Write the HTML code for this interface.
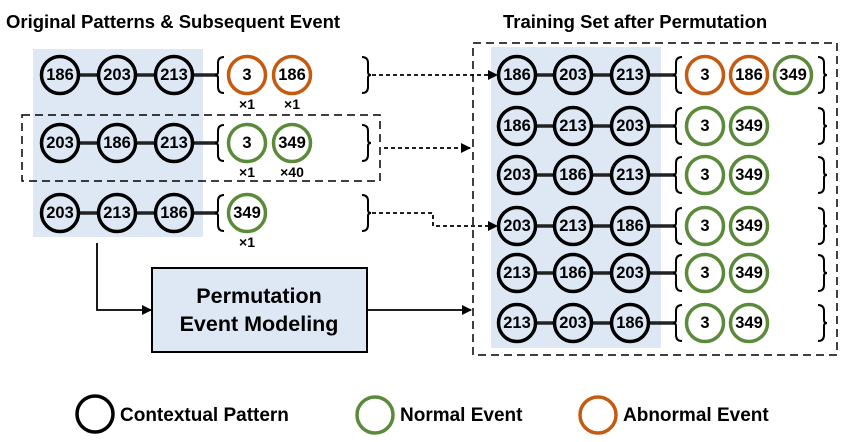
<!DOCTYPE html>
<html><head><meta charset="utf-8"><style>
html,body{margin:0;padding:0;background:#fff;}
svg{display:block;font-family:"Liberation Sans",sans-serif;font-weight:bold;}
.k{fill:none;stroke:#000;stroke-width:3.5}
.g{fill:none;stroke:#5b8a3b;stroke-width:3.5}
.o{fill:none;stroke:#c55a11;stroke-width:3.5}
.t{font-size:16.5px;text-anchor:middle;dominant-baseline:central;fill:#000}
.m{font-size:14px;text-anchor:middle;fill:#000}
.br{fill:none;stroke:#000;stroke-width:2}
.ln{stroke:#222;stroke-width:3.5}
</style></head><body>
<svg width="851" height="442" viewBox="0 0 851 442">
<defs><marker id="a" markerWidth="10" markerHeight="10" refX="9" refY="5" orient="auto" markerUnits="userSpaceOnUse"><path d="M0,0 L10,5 L0,10 z" fill="#000"/></marker></defs>
<text x="6" y="28" font-size="18.5">Original Patterns &amp; Subsequent Event</text>
<text x="503" y="28" font-size="18.5">Training Set after Permutation</text>
<rect x="33" y="49" width="170" height="188" fill="#dde8f4"/>
<rect x="491" y="47" width="170" height="301" fill="#dde8f4"/>
<rect x="22" y="115" width="358" height="66" fill="none" stroke="#000" stroke-width="1.5" stroke-dasharray="8,5"/>
<rect x="473" y="43" width="364" height="312" fill="none" stroke="#000" stroke-width="1.5" stroke-dasharray="8,5"/>

<g>
<line class="ln" x1="60" y1="75" x2="217" y2="75"/><line class="ln" x1="60" y1="143" x2="217" y2="143"/><line class="ln" x1="60" y1="213" x2="217" y2="213"/>
<g style="fill:#dde8f4" stroke="#000" stroke-width="3.5">
<circle cx="60" cy="75" r="18.5"/><circle cx="117" cy="75" r="18.5"/><circle cx="174" cy="75" r="18.5"/>
<circle cx="60" cy="143" r="18.5"/><circle cx="117" cy="143" r="18.5"/><circle cx="174" cy="143" r="18.5"/>
<circle cx="60" cy="213" r="18.5"/><circle cx="117" cy="213" r="18.5"/><circle cx="174" cy="213" r="18.5"/>
</g>
<text class="t" x="60" y="75">186</text><text class="t" x="117" y="75">203</text><text class="t" x="174" y="75">213</text>
<text class="t" x="60" y="143">203</text><text class="t" x="117" y="143">186</text><text class="t" x="174" y="143">213</text>
<text class="t" x="60" y="213">203</text><text class="t" x="117" y="213">213</text><text class="t" x="174" y="213">186</text>
<circle cx="247" cy="75" r="18.5" class="o"/><circle cx="292" cy="75" r="18.5" class="o"/>
<text class="t" x="247" y="75">3</text><text class="t" x="292" y="75">186</text>
<text class="m" x="247" y="109">×1</text><text class="m" x="292" y="109">×1</text>
<circle cx="247" cy="143" r="18.5" class="g"/><circle cx="292" cy="143" r="18.5" class="g"/>
<text class="t" x="247" y="143">3</text><text class="t" x="292" y="143">349</text>
<text class="m" x="247" y="177">×1</text><text class="m" x="292" y="177">×40</text>
<circle cx="247" cy="213" r="18.5" class="g"/><text class="t" x="247" y="213">349</text>
<text class="m" x="247" y="247">×1</text>
<path class="br" d="M224,57 Q218,57 218,63 L218,72 Q218,75 215,75 Q218,75 218,78 L218,87 Q218,93 224,93"/>
<path class="br" d="M224,125 Q218,125 218,131 L218,140 Q218,143 215,143 Q218,143 218,146 L218,155 Q218,161 224,161"/>
<path class="br" d="M224,195 Q218,195 218,201 L218,210 Q218,213 215,213 Q218,213 218,216 L218,225 Q218,231 224,231"/>
<path class="br" d="M362,57 Q368,57 368,63 L368,72 Q368,75 371,75 Q368,75 368,78 L368,87 Q368,93 362,93"/>
<path class="br" d="M362,125 Q368,125 368,131 L368,140 Q368,143 371,143 Q368,143 368,146 L368,155 Q368,161 362,161"/>
<path class="br" d="M362,195 Q368,195 368,201 L368,210 Q368,213 371,213 Q368,213 368,216 L368,225 Q368,231 362,231"/>
</g>

<g stroke="#000" stroke-width="1.8" fill="none">
<path d="M372,75 L497,75" stroke-dasharray="4,3" marker-end="url(#a)"/>
<path d="M384,148 L470,148" stroke-dasharray="4,3" marker-end="url(#a)"/>
<path d="M372,213 L433,213 L433,226 L497,226" stroke-dasharray="4,3" marker-end="url(#a)"/>
<path d="M97,243 L97,310 L151,310" marker-end="url(#a)"/>
<path d="M367,310 L471,310" marker-end="url(#a)"/>
</g>
<rect x="152" y="268" width="215" height="84" fill="#dde8f4" stroke="#000" stroke-width="2"/>
<text x="259" y="303" font-size="21.5" text-anchor="middle">Permutation</text>
<text x="259" y="331" font-size="21.5" text-anchor="middle">Event Modeling</text>

<g>
<line class="ln" x1="517" y1="75" x2="675" y2="75"/><line class="ln" x1="517" y1="126" x2="675" y2="126"/><line class="ln" x1="517" y1="175" x2="675" y2="175"/><line class="ln" x1="517" y1="226" x2="675" y2="226"/><line class="ln" x1="517" y1="273" x2="675" y2="273"/><line class="ln" x1="517" y1="323" x2="675" y2="323"/>
<g style="fill:#dde8f4" stroke="#000" stroke-width="3.5">
<circle cx="517" cy="75" r="18.5"/><circle cx="573" cy="75" r="18.5"/><circle cx="630" cy="75" r="18.5"/>
<circle cx="517" cy="126" r="18.5"/><circle cx="573" cy="126" r="18.5"/><circle cx="630" cy="126" r="18.5"/>
<circle cx="517" cy="175" r="18.5"/><circle cx="573" cy="175" r="18.5"/><circle cx="630" cy="175" r="18.5"/>
<circle cx="517" cy="226" r="18.5"/><circle cx="573" cy="226" r="18.5"/><circle cx="630" cy="226" r="18.5"/>
<circle cx="517" cy="273" r="18.5"/><circle cx="573" cy="273" r="18.5"/><circle cx="630" cy="273" r="18.5"/>
<circle cx="517" cy="323" r="18.5"/><circle cx="573" cy="323" r="18.5"/><circle cx="630" cy="323" r="18.5"/>
</g>
<text class="t" x="517" y="75">186</text><text class="t" x="573" y="75">203</text><text class="t" x="630" y="75">213</text>
<text class="t" x="517" y="126">186</text><text class="t" x="573" y="126">213</text><text class="t" x="630" y="126">203</text>
<text class="t" x="517" y="175">203</text><text class="t" x="573" y="175">186</text><text class="t" x="630" y="175">213</text>
<text class="t" x="517" y="226">203</text><text class="t" x="573" y="226">213</text><text class="t" x="630" y="226">186</text>
<text class="t" x="517" y="273">213</text><text class="t" x="573" y="273">186</text><text class="t" x="630" y="273">203</text>
<text class="t" x="517" y="323">213</text><text class="t" x="573" y="323">203</text><text class="t" x="630" y="323">186</text>
<circle cx="705" cy="75" r="18.5" class="o"/><circle cx="749" cy="75" r="18.5" class="o"/><circle cx="793" cy="75" r="18.5" class="g"/>
<text class="t" x="705" y="75">3</text><text class="t" x="749" y="75">186</text><text class="t" x="793" y="75">349</text>
<circle cx="705" cy="126" r="18.5" class="g"/><circle cx="749" cy="126" r="18.5" class="g"/><text class="t" x="705" y="126">3</text><text class="t" x="749" y="126">349</text>
<circle cx="705" cy="175" r="18.5" class="g"/><circle cx="749" cy="175" r="18.5" class="g"/><text class="t" x="705" y="175">3</text><text class="t" x="749" y="175">349</text>
<circle cx="705" cy="226" r="18.5" class="g"/><circle cx="749" cy="226" r="18.5" class="g"/><text class="t" x="705" y="226">3</text><text class="t" x="749" y="226">349</text>
<circle cx="705" cy="273" r="18.5" class="g"/><circle cx="749" cy="273" r="18.5" class="g"/><text class="t" x="705" y="273">3</text><text class="t" x="749" y="273">349</text>
<circle cx="705" cy="323" r="18.5" class="g"/><circle cx="749" cy="323" r="18.5" class="g"/><text class="t" x="705" y="323">3</text><text class="t" x="749" y="323">349</text>
<path class="br" d="M682,57 Q676,57 676,63 L676,72 Q676,75 673,75 Q676,75 676,78 L676,87 Q676,93 682,93"/>
<path class="br" d="M682,108 Q676,108 676,114 L676,123 Q676,126 673,126 Q676,126 676,129 L676,138 Q676,144 682,144"/>
<path class="br" d="M682,157 Q676,157 676,163 L676,172 Q676,175 673,175 Q676,175 676,178 L676,187 Q676,193 682,193"/>
<path class="br" d="M682,208 Q676,208 676,214 L676,223 Q676,226 673,226 Q676,226 676,229 L676,238 Q676,244 682,244"/>
<path class="br" d="M682,255 Q676,255 676,261 L676,270 Q676,273 673,273 Q676,273 676,276 L676,285 Q676,291 682,291"/>
<path class="br" d="M682,305 Q676,305 676,311 L676,320 Q676,323 673,323 Q676,323 676,326 L676,335 Q676,341 682,341"/>
<path class="br" d="M818,57 Q824,57 824,63 L824,72 Q824,75 827,75 Q824,75 824,78 L824,87 Q824,93 818,93"/>
<path class="br" d="M818,108 Q824,108 824,114 L824,123 Q824,126 827,126 Q824,126 824,129 L824,138 Q824,144 818,144"/>
<path class="br" d="M818,157 Q824,157 824,163 L824,172 Q824,175 827,175 Q824,175 824,178 L824,187 Q824,193 818,193"/>
<path class="br" d="M818,208 Q824,208 824,214 L824,223 Q824,226 827,226 Q824,226 824,229 L824,238 Q824,244 818,244"/>
<path class="br" d="M818,255 Q824,255 824,261 L824,270 Q824,273 827,273 Q824,273 824,276 L824,285 Q824,291 818,291"/>
<path class="br" d="M818,305 Q824,305 824,311 L824,320 Q824,323 827,323 Q824,323 824,326 L824,335 Q824,341 818,341"/>
</g>

<circle cx="95" cy="414" r="18" class="k"/>
<text x="120" y="421" font-size="19">Contextual Pattern</text>
<circle cx="375" cy="415" r="18" class="g"/>
<text x="400" y="421" font-size="19">Normal Event</text>
<circle cx="598" cy="415" r="18" class="o"/>
<text x="623" y="421" font-size="19">Abnormal Event</text>
</svg>
</body></html>
